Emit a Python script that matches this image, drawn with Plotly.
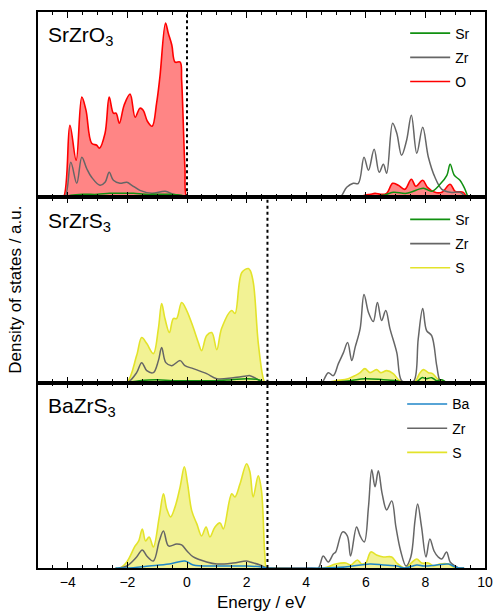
import plotly.graph_objects as go

# ---------------- data (energy in eV, DOS in arbitrary units) ----------------
# Panel 1: SrZrO3
p1_O_E = [-4.3, -4.15, -3.93, -3.72, -3.53, -3.39, -3.2, -3.03, -2.94, -2.75, -2.61, -2.47, -2.38, -2.27,
          -2.11, -1.91, -1.74, -1.58, -1.47, -1.33, -1.17, -1.02, -0.91, -0.72, -0.63, -0.51, -0.4,
          -0.23, -0.18, -0.07, 0.0, 0.2, 5.6, 5.8, 5.97, 6.15, 6.31, 6.5, 6.7, 6.9, 7.09, 7.31, 7.53, 7.68,
          7.91, 8.07, 8.32, 8.55, 8.83, 9.0, 9.27, 9.4, 9.6]
p1_O_V = [0, 0, 72, 37, 100, 87, 54, 52, 49, 64, 100, 84, 84, 74,
          92, 103, 80, 89, 87, 76, 71, 94, 120, 174, 164, 152, 135,
          135, 117, 30, 0, 0, 0, 0, 2, 3, 4, 3, 4, 14, 12, 8, 18, 11,
          17, 10, 5, 5, 13, 6, 5, 0, 0]

p1_Zr_E = [-4.3, -4.1, -3.9, -3.7, -3.53, -3.37, -3.2, -2.92, -2.75, -2.61, -2.47, -2.25, -2.02, -1.85,
           -1.58, -1.18, -0.73, -0.46, -0.1, 0.05, 4.9, 5.13, 5.36, 5.58, 5.75, 5.94, 6.09, 6.28, 6.45,
           6.59, 6.7, 6.9, 7.04, 7.2, 7.37, 7.53, 7.71, 7.91, 8.1, 8.32, 8.55, 8.83, 9.16, 9.39, 9.6]
p1_Zr_V = [0, 0, 35, 14, 40, 29, 20, 12, 15, 25, 17, 14, 15, 12,
           7, 4, 6, 3, 1, 0, 0, 0, 10, 14, 14, 40, 27, 48, 25,
           33, 24, 74, 64, 42, 57, 82, 44, 70, 40, 20, 8, 5, 5, 0, 0]

p1_Sr_E = [-4.3, -4.2, -3.9, -3.5, -3.0, -2.6, -2.2, -1.8, -1.4, -1.0, -0.6, -0.2, 0.0, 5.8, 6.59, 6.92,
           7.37, 7.93, 8.21, 8.49, 8.72, 8.83, 8.97, 9.16, 9.33, 9.45, 9.6]
p1_Sr_V = [0, 0, 2, 3, 3, 4, 4, 4, 3, 3, 3, 2, 0, 0, 2, 5,
           4, 9, 6, 13, 22, 33, 22, 17, 8, 0, 0]

# Panel 2: SrZrS3
p2_S_E = [-2.3, -2.02, -1.69, -1.52, -1.35, -1.13, -0.96, -0.85, -0.74, -0.59, -0.46, -0.35, -0.18, -0.01,
          0.21, 0.38, 0.49, 0.66, 0.83, 1.0, 1.16, 1.5, 1.61, 1.84, 2.06, 2.12, 2.23, 2.39, 2.56, 2.62, 2.8,
          4.57, 5.03, 5.41, 5.64, 5.81, 5.97, 6.14, 6.36, 6.5, 6.7, 6.92, 7.09, 7.26, 7.65, 7.8, 7.93,
          8.1, 8.24, 8.4, 8.6, 8.72, 8.9]
p2_S_V = [0, 0, 27, 45, 39, 29, 54, 79, 64, 50, 64, 64, 80, 72,
          55, 40, 32, 47, 50, 33, 54, 72, 69, 110, 114, 112, 99, 40, 4, 0, 0,
          0, 2, 4, 7, 10, 14, 10, 13, 10, 12, 9, 3, 0, 1, 9, 13,
          10, 9, 4, 2, 0, 0]

p2_Zr_E = [-2.3, -2.0, -1.69, -1.52, -1.35, -1.13, -0.96, -0.85, -0.71, -0.51, -0.23, -0.07, 0.21, 0.66,
           1.0, 1.55, 2.06, 2.11, 2.33, 2.56, 2.8, 4.3, 4.52, 4.74, 4.91, 5.08, 5.25, 5.39, 5.53, 5.64,
           5.81, 5.94, 6.09, 6.25, 6.39, 6.53, 6.67, 6.81, 7.04, 7.2, 7.43, 7.62, 7.76, 7.91, 8.04,
           8.21, 8.38, 8.49, 8.6, 8.8]
p2_Zr_V = [0, 0, 10, 20, 12, 10, 22, 35, 20, 17, 22, 17, 14, 9,
           4, 5, 7, 7, 4, 0, 0, 0, 0, 10, 7, 19, 30, 40, 22, 35,
           54, 88, 70, 61, 80, 62, 72, 54, 30, 2, 0, 2, 44, 74, 52,
           47, 17, 2, 0, 0]

p2_Sr_E = [-2.3, -2.1, -1.6, -1.0, -0.5, 0.0, 0.5, 1.0, 1.5, 2.0, 2.4, 2.6, 2.8, 4.7, 5.47, 5.97,
           6.59, 7.04, 7.26, 7.71, 7.88, 8.04, 8.21, 8.38, 8.55, 8.72, 8.9]
p2_Sr_V = [0, 0, 2, 3, 2, 2, 2, 2, 3, 4, 3, 0, 0, 0, 2, 4,
           3, 2, 0, 1, 5, 4, 5, 2, 3, 0, 0]

# Panel 3: BaZrS3
p3_S_E = [-2.4, -2.25, -2.02, -1.74, -1.62, -1.5, -1.39, -1.27, -1.13, -0.93, -0.79, -0.68, -0.55, -0.4,
          -0.23, -0.09, 0.02, 0.16, 0.33, 0.49, 0.64, 0.77, 0.94, 1.11, 1.22, 1.5, 1.61, 1.78, 2.0,
          2.11, 2.22, 2.39, 2.5, 2.61, 2.67, 2.8, 4.57, 4.99, 5.33, 5.5, 5.72, 5.86, 6.0, 6.17, 6.36,
          6.59, 6.87, 7.04, 7.3, 7.49, 7.71, 7.88, 8.1, 8.27, 8.49, 8.77, 8.94, 9.1, 9.3]
p3_S_V = [0, 0, 6, 22, 27, 39, 27, 31, 21, 51, 74, 59, 51, 61,
          81, 101, 84, 57, 44, 32, 41, 31, 41, 45, 39, 74, 71, 84, 104,
          96, 71, 92, 77, 14, 0, 0, 0, 4, 5, 3, 8, 4, 5, 16, 13,
          11, 11, 5, 0, 4, 9, 5, 5, 2, 4, 4, 1, 0, 0]

p3_Zr_E = [-2.3, -2.02, -1.69, -1.5, -1.35, -1.13, -0.93, -0.79, -0.62, -0.35, -0.18, 0.0, 0.21, 0.66,
           1.0, 1.55, 2.0, 2.11, 2.45, 2.67, 2.8, 4.2, 4.41, 4.57, 4.74, 4.91, 4.99, 5.22, 5.38, 5.49,
           5.69, 5.81, 5.95, 6.09, 6.2, 6.31, 6.42, 6.55, 6.7, 6.87, 7.01, 7.17, 7.35, 7.51, 7.65,
           7.74, 7.87, 8.02, 8.15, 8.29, 8.43, 8.55, 8.71, 8.83, 9.0, 9.12, 9.3]
p3_Zr_V = [0, 2, 11, 18, 12, 7, 27, 37, 22, 24, 23, 17, 11, 6,
           4, 5, 7, 6, 3, 0, 0, 0, 0, 12, 6, 14, 16, 36, 32, 12,
           41, 32, 26, 61, 98, 81, 97, 74, 58, 67, 41, 17, 2, 11, 47,
           64, 41, 11, 29, 17, 11, 9, 16, 6, 2, 0, 0]

p3_Ba_E = [-2.4, -2.0, -1.27, -0.6, -0.07, 0.21, 1.0, 2.0, 2.5, 2.7, 4.57, 5.3, 6.14, 6.59, 7.04, 7.3,
           7.71, 7.95, 8.38, 8.77, 9.0, 9.15, 9.3]
p3_Ba_V = [0, 0, 2, 4, 7, 3, 2, 2, 1, 0, 0, 1, 4, 3, 2, 0,
           3, 2, 3, 4, 1, 0, 0]

panel_names = ["SrZrO<sub>3</sub>", "SrZrS<sub>3</sub>", "BaZrS<sub>3</sub>"]
fermi_levels = [0.0, 2.7, 2.7]

# ---------------- styling ----------------
GREEN = "#109010"
GRAY = "#666666"
RED = "#ff0000"
RED_FILL = "rgba(255,0,0,0.48)"
YEL = "#e3e32a"
YEL_FILL = "rgba(232,232,60,0.55)"
BLUE = "#1f86c8"
FONT = "Liberation Sans, Arial, sans-serif"
SMOOTH = 1.0

layout_axes = {}
dom = [[2 / 3, 1.0], [1 / 3, 2 / 3], [0.0, 1 / 3]]
for r in range(1, 4):
    xs = "" if r == 1 else str(r)
    layout_axes[f"xaxis{xs}"] = dict(
        domain=[0, 1], anchor=f"y{xs}", range=[-5, 10], tickmode="linear", tick0=0, dtick=2,
        ticks="inside", ticklen=6, tickwidth=1.4, tickcolor="#000000",
        minor=dict(ticks="inside", tick0=0, dtick=0.5, ticklen=3.5, tickwidth=1.2, tickcolor="#000000"),
        showline=True, linecolor="#000000", linewidth=1.5, mirror="allticks",
        showgrid=False, zeroline=False, showticklabels=(r == 3),
        tickfont=dict(family=FONT, size=14, color="black"))
    layout_axes[f"yaxis{xs}"] = dict(
        domain=dom[r - 1], anchor=f"x{xs}", range=[0, 185], showticklabels=False, ticks="",
        showline=True, linecolor="#000000", linewidth=1.5, mirror=True, showgrid=False, zeroline=False)

fig = go.Figure()

def add_panel(row, legend, fill_E, fill_V, fill_name, fill_line, fill_col, lines):
    xs = "" if row == 1 else str(row)
    ax = dict(xaxis=f"x{xs}", yaxis=f"y{xs}")
    fig.add_trace(go.Scatter(x=fill_E, y=fill_V, mode="lines", fill="tozeroy",
                             fillcolor=fill_col, line=dict(color=fill_line, width=1.6, shape="spline", smoothing=SMOOTH),
                             showlegend=False, hoverinfo="skip", **ax))
    for E, V, name, col in lines:
        fig.add_trace(go.Scatter(x=E, y=V, mode="lines", line=dict(color=col, width=1.5, shape="spline", smoothing=SMOOTH),
                                 showlegend=False, hoverinfo="skip", **ax))
    entries = [(n, c) for _, _, n, c in reversed(lines)] + [(fill_name, fill_line)]
    for k, (n, c) in enumerate(entries):
        fig.add_trace(go.Scatter(x=[None], y=[None], mode="lines", name=n,
                                 line=dict(color=c, width=1.6), legend=legend,
                                 legendgroup=f"{legend}_{k}", legendrank=k + 1, **ax))

add_panel(1, "legend", p1_O_E, p1_O_V, "O", RED, RED_FILL,
          [(p1_Zr_E, p1_Zr_V, "Zr", GRAY), (p1_Sr_E, p1_Sr_V, "Sr", GREEN)])
add_panel(2, "legend2", p2_S_E, p2_S_V, "S", YEL, YEL_FILL,
          [(p2_Zr_E, p2_Zr_V, "Zr", GRAY), (p2_Sr_E, p2_Sr_V, "Sr", GREEN)])
add_panel(3, "legend3", p3_S_E, p3_S_V, "S", YEL, YEL_FILL,
          [(p3_Zr_E, p3_Zr_V, "Zr", GRAY), (p3_Ba_E, p3_Ba_V, "Ba", BLUE)])

shapes = []
annotations = []
for r in range(1, 4):
    xs = "" if r == 1 else str(r)
    shapes.append(dict(type="line", xref=f"x{xs}", yref=f"y{xs} domain", x0=fermi_levels[r - 1],
                       x1=fermi_levels[r - 1], y0=0, y1=1, line=dict(color="black", width=2, dash="dot")))
    annotations.append(dict(text=panel_names[r - 1], xref=f"x{xs} domain", yref=f"y{xs} domain",
                            x=0.018, y=0.95, xanchor="left", yanchor="top", showarrow=False,
                            font=dict(family=FONT, size=21, color="black")))

annotations.append(dict(text="Energy / eV", xref="paper", yref="paper", x=0.5, y=-0.062,
                        showarrow=False, xanchor="center", yanchor="middle",
                        font=dict(family=FONT, size=17, color="black")))
annotations.append(dict(text="Density of states / a.u.", xref="paper", yref="paper", x=-0.052, y=0.5,
                        textangle=-90, showarrow=False, xanchor="center", yanchor="middle",
                        font=dict(family=FONT, size=17, color="black")))

leg_common = dict(xanchor="right", yanchor="top", bgcolor="rgba(0,0,0,0)",
                  font=dict(family=FONT, size=14, color="black"), itemwidth=40,
                  traceorder="grouped", tracegroupgap=3)
fig.update_layout(
    template="none",
    width=494, height=612,
    margin=dict(l=38, r=9, t=12, b=44, autoexpand=False),
    paper_bgcolor="white", plot_bgcolor="white",
    showlegend=True,
    shapes=shapes, annotations=annotations,
    legend=dict(x=0.978, y=0.99, **leg_common),
    legend2=dict(x=0.978, y=0.655, **leg_common),
    legend3=dict(x=0.978, y=0.323, **leg_common),
    **layout_axes,
)

fig.write_html("out.html")
